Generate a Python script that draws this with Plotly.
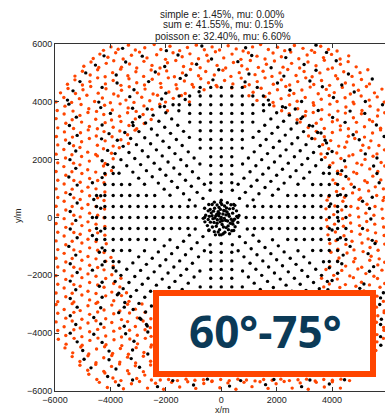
import plotly.graph_objects as go

# ---------------- data (metres) ----------------
TITLE_LINES = ["simple e: 1.45%, mu: 0.00%",
               "sum e: 41.55%, mu: 0.15%",
               "poisson e: 32.40%, mu: 6.60%"]
TICKS = [-6000, -4000, -2000, 0, 2000, 4000, 6000]
BOX_LABEL = "60°-75°"

# dense central cluster
BLACK_CORE = [(0,0),(-90,60),(110,-30),(60,120),(-140,-80),(-40,-150),(170,90),(-200,50),(30,-240),(230,-120),
(-110,200),(140,230),(-260,-170),(290,40),(-300,-40),(-30,280),(80,-330),(-180,-300),(250,-290),(-360,160),
(360,-60),(190,330),(-240,320),(-390,-160),(410,150),(-60,-420),(120,400),(-430,40),(420,-230),(300,300),
(-320,-330),(20,450),(-150,430),(260,-420),(-470,-70),(480,-60),(-110,-500),(130,-510),(-400,280),(430,310),
(-470,230),(500,-320),(-330,450),(350,440),(-500,-280),(-250,-490),(560,40),(-560,80),(70,-560),(-20,520),
(380,-460),(-440,-430),(550,230),(-590,-150),(220,510),(-250,530),(600,-170),(-600,320),(490,420),(-60,-600),
(640,70),(-650,-30),(-210,-600),(300,-560),(160,-100),(-70,140),(-230,-20),(40,-110),(210,190),(-160,110),
(90,240),(-20,-50),(330,-200),(-80,350),(-330,60),(180,-350),(-280,220),(420,-130),(260,110),(-150,-200)]

# detector grid
BLACK_GRID = [
# east
(600,0),(900,0),(1200,0),(1500,0),(1800,0),(2100,0),(2400,0),(2700,0),(3000,0),(3300,0),(3600,0),(3900,0),
(1200,380),(1500,380),(1800,380),(2100,380),(2400,380),(2700,380),(3000,380),(3300,380),(3600,380),(3900,380),
(1200,-380),(1500,-380),(1800,-380),(2100,-380),(2400,-380),(2700,-380),(3000,-380),(3300,-380),(3600,-380),(3900,-380),
(2400,760),(2700,760),(3000,760),(3300,760),(3600,760),(3900,760),
(2400,-760),(2700,-760),(3000,-760),(3300,-760),(3600,-760),(3900,-760),
(3300,1140),(3600,1140),(3900,1140),(3300,-1140),(3600,-1140),(3900,-1140),
(4200,0),(4500,0),(4200,380),(4500,380),(4200,-380),(4500,-380),(4200,760),(4500,760),(4200,-760),(4500,-760),
(4200,1140),(4200,-1140),(3900,1520),(4200,1520),(3900,-1520),(4200,-1520),
# west
(-600,0),(-900,0),(-1200,0),(-1500,0),(-1800,0),(-2100,0),(-2400,0),(-2700,0),(-3000,0),(-3300,0),(-3600,0),(-3900,0),
(-1200,380),(-1500,380),(-1800,380),(-2100,380),(-2400,380),(-2700,380),(-3000,380),(-3300,380),(-3600,380),(-3900,380),
(-1200,-380),(-1500,-380),(-1800,-380),(-2100,-380),(-2400,-380),(-2700,-380),(-3000,-380),(-3300,-380),(-3600,-380),(-3900,-380),
(-2400,760),(-2700,760),(-3000,760),(-3300,760),(-3600,760),(-3900,760),
(-2400,-760),(-2700,-760),(-3000,-760),(-3300,-760),(-3600,-760),(-3900,-760),
(-3300,1140),(-3600,1140),(-3900,1140),(-3300,-1140),(-3600,-1140),(-3900,-1140),
(-4200,0),(-4500,0),(-4200,380),(-4500,380),(-4200,-380),(-4500,-380),(-4200,760),(-4500,760),(-4200,-760),(-4500,-760),
(-4200,1140),(-4200,-1140),(-3900,1520),(-4200,1520),(-3900,-1520),(-4200,-1520),
# north
(0,600),(0,900),(0,1200),(0,1500),(0,1800),(0,2100),(0,2400),(0,2700),(0,3000),(0,3300),(0,3600),(0,3900),
(380,1200),(380,1500),(380,1800),(380,2100),(380,2400),(380,2700),(380,3000),(380,3300),(380,3600),(380,3900),
(-380,1200),(-380,1500),(-380,1800),(-380,2100),(-380,2400),(-380,2700),(-380,3000),(-380,3300),(-380,3600),(-380,3900),
(760,2400),(760,2700),(760,3000),(760,3300),(760,3600),(760,3900),
(-760,2400),(-760,2700),(-760,3000),(-760,3300),(-760,3600),(-760,3900),
(1140,3300),(1140,3600),(1140,3900),(-1140,3300),(-1140,3600),(-1140,3900),
(0,4200),(0,4500),(380,4200),(380,4500),(-380,4200),(-380,4500),(760,4200),(760,4500),(-760,4200),(-760,4500),
(1140,4200),(-1140,4200),(1520,3900),(1520,4200),(-1520,3900),(-1520,4200),
# south (visible part)
(0,-600),(0,-900),(0,-1200),(0,-1500),(0,-1800),(0,-2100),(0,-2400),
(380,-1200),(380,-1500),(380,-1800),(380,-2100),(380,-2400),
(-380,-1200),(-380,-1500),(-380,-1800),(-380,-2100),(-380,-2400),
(760,-2400),(-760,-2400),
# north-east
(450,450),(660,660),(870,870),(1080,1080),(1290,1290),(1500,1500),(1710,1710),(1920,1920),(2130,2130),(2340,2340),(2550,2550),(2760,2760),
(940,400),(1150,610),(1360,820),(1580,1040),(1790,1250),(2000,1460),(2210,1670),(2420,1880),(2640,2100),(2850,2310),(3060,2520),
(400,940),(610,1150),(820,1360),(1040,1580),(1250,1790),(1460,2000),(1670,2210),(1880,2420),(2100,2640),(2310,2850),(2520,3060),
(1850,770),(2060,980),(2270,1190),(2490,1410),(2700,1620),(2910,1830),(3120,2040),(3330,2250),
(770,1850),(980,2060),(1190,2270),(1410,2490),(1620,2700),(1830,2910),(2040,3120),(2250,3330),
(2770,1150),(2980,1360),(3190,1570),(3410,1790),(1150,2770),(1360,2980),(1570,3190),(1790,3410),
(3690,1530),(1530,3690),
(2970,2970),(3180,3180),(3270,2730),(3480,2940),(2730,3270),(2940,3480),(3540,2460),(3750,2670),(2460,3540),(2670,3750),
(3620,2000),(3830,2210),(2000,3620),(2210,3830),(3900,1740),(1740,3900),
# north-west
(-450,450),(-660,660),(-870,870),(-1080,1080),(-1290,1290),(-1500,1500),(-1710,1710),(-1920,1920),(-2130,2130),(-2340,2340),(-2550,2550),(-2760,2760),
(-940,400),(-1150,610),(-1360,820),(-1580,1040),(-1790,1250),(-2000,1460),(-2210,1670),(-2420,1880),(-2640,2100),(-2850,2310),(-3060,2520),
(-400,940),(-610,1150),(-820,1360),(-1040,1580),(-1250,1790),(-1460,2000),(-1670,2210),(-1880,2420),(-2100,2640),(-2310,2850),(-2520,3060),
(-1850,770),(-2060,980),(-2270,1190),(-2490,1410),(-2700,1620),(-2910,1830),(-3120,2040),(-3330,2250),
(-770,1850),(-980,2060),(-1190,2270),(-1410,2490),(-1620,2700),(-1830,2910),(-2040,3120),(-2250,3330),
(-2770,1150),(-2980,1360),(-3190,1570),(-3410,1790),(-1150,2770),(-1360,2980),(-1570,3190),(-1790,3410),
(-3690,1530),(-1530,3690),
(-2970,2970),(-3180,3180),(-3270,2730),(-3480,2940),(-2730,3270),(-2940,3480),(-3540,2460),(-3750,2670),(-2460,3540),(-2670,3750),
(-3620,2000),(-3830,2210),(-2000,3620),(-2210,3830),(-3900,1740),(-1740,3900),
# south-east (visible part)
(450,-450),(660,-660),(870,-870),(1080,-1080),(1290,-1290),(1500,-1500),(1710,-1710),(1920,-1920),(2130,-2130),(2340,-2340),(2550,-2550),
(940,-400),(1150,-610),(1360,-820),(1580,-1040),(1790,-1250),(2000,-1460),(2210,-1670),(2420,-1880),(2640,-2100),(2850,-2310),(3060,-2520),
(400,-940),(610,-1150),(820,-1360),(1040,-1580),(1250,-1790),(1460,-2000),(1670,-2210),(1880,-2420),
(1850,-770),(2060,-980),(2270,-1190),(2490,-1410),(2700,-1620),(2910,-1830),(3120,-2040),(3330,-2250),
(770,-1850),(980,-2060),(1190,-2270),(1410,-2490),
(2770,-1150),(2980,-1360),(3190,-1570),(3410,-1790),(3690,-1530),
(3540,-2460),(3620,-2000),(3830,-2210),(3900,-1740),
# south-west
(-450,-450),(-660,-660),(-870,-870),(-1080,-1080),(-1290,-1290),(-1500,-1500),(-1710,-1710),(-1920,-1920),(-2130,-2130),(-2340,-2340),(-2550,-2550),(-2760,-2760),
(-940,-400),(-1150,-610),(-1360,-820),(-1580,-1040),(-1790,-1250),(-2000,-1460),(-2210,-1670),(-2420,-1880),(-2640,-2100),(-2850,-2310),(-3060,-2520),
(-400,-940),(-610,-1150),(-820,-1360),(-1040,-1580),(-1250,-1790),(-1460,-2000),(-1670,-2210),(-1880,-2420),(-2520,-3060),
(-1850,-770),(-2060,-980),(-2270,-1190),(-2490,-1410),(-2700,-1620),(-2910,-1830),(-3120,-2040),(-3330,-2250),
(-770,-1850),(-980,-2060),(-1190,-2270),(-1410,-2490),
(-2770,-1150),(-2980,-1360),(-3190,-1570),(-3410,-1790),(-3690,-1530),
(-2970,-2970),(-3180,-3180),(-3270,-2730),(-3480,-2940),(-2730,-3270),(-2940,-3480),(-3540,-2460),(-3750,-2670),(-2670,-3750),
(-3620,-2000),(-3830,-2210),(-3900,-1740)]

# black hits among the outer ring
BLACK_OUTER = [(-3560,5850),(-1980,5770),(-700,5930),(880,5870),(2480,5800),(3420,5960),
(-4230,5590),(-2850,5580),(-1560,5620),(-350,5480),(1100,5600),(2330,5530),(3800,5710),
(-4540,5270),(-3450,5380),(-2040,5220),(-890,5300),(600,5390),(1800,5180),(2990,5290),(4150,5420),
(-4890,5000),(-3790,4930),(-2380,5030),(-1270,4920),(-90,5110),(1000,4960),(2260,4890),(3420,5090),(4590,4960),
(-5100,4700),(-3760,4650),(-2620,4700),(-1480,4810),(-300,4760),(860,4690),(2030,4650),(3200,4720),(4350,4580),(5450,4790),
(-5350,4380),(-4300,4500),(-3150,4420),(-2000,4300),(-800,4350),(1300,4500),(2480,4400),(3650,4520),(4800,4340),
(-5550,4060),(-4420,3990),(-3300,4180),(-2150,4100),(-1300,4080),(1700,4060),(2900,4010),(4050,4150),(5200,4010),
(-5500,3920),(-4350,3800),(-3200,3780),(-2050,3840),(2320,3800),(3500,3700),(4650,3680),(5820,3900),
(-5230,3470),(-4000,3600),(-2950,3480),(2880,3420),(4020,3460),(5180,3600),
(-5480,3180),(-4300,3200),(-3200,3290),(3300,3160),(4470,3290),(5600,3200),
(-5200,2840),(-4050,2900),(3600,2920),(4760,2860),(5880,2800),
(-5480,2570),(-4320,2720),(3800,2580),(4980,2690),
(-5250,2300),(-4100,2320),(4000,2280),(5200,2200),
(-5460,2000),(-4300,1960),(4450,1960),(5620,2060),
(-5250,1700),(-4100,1830),(4350,1620),(5500,1780),
(-5500,1400),(-4300,1380),(4500,1420),(5620,1520),
(-5200,1120),(-4650,1200),(4800,1050),(5700,1200),
(-5450,800),(-4350,750),(4300,790),(5450,700),
(-5200,500),(-4600,620),(3950,470),(5100,560),
(-5450,210),(-4350,320),(4200,200),(5350,310),
(-5250,-100),(-4650,0),(4230,-120),(5400,-50),
(-5450,-400),(-4350,-470),(4000,-430),(5100,-380),
(-5200,-700),(-4650,-620),(4300,-700),(5450,-790),
(-5500,-1000),(-4300,-1050),(4650,-1000),(5550,-900),
(-5250,-1300),(-4400,-1200),(4400,-1300),(5300,-1250),
(-5450,-1600),(-4300,-1640),(4350,-1600),(5500,-1700),
(-5200,-1900),(-4650,-1820),(-3800,-1850),(4200,-1930),(5350,-1860),
(-5450,-2200),(-4300,-2240),(4000,-2180),(5150,-2300),
(-5250,-2500),(-4400,-2380),(-3700,-2620),(3850,-2500),(5000,-2450),(5850,-2600),
(-5450,-2800),(-4300,-2760),(5750,-2780),
(-5200,-3100),(-4350,-3120),(-3500,-3100),(5720,-3010),
(-5450,-3400),(-4600,-3460),(-3700,-3290),(-2900,-3520),(5780,-3520),
(-5250,-3700),(-4350,-3680),(-3500,-3760),(-2700,-3700),(5750,-3700),
(-5450,-4000),(-4600,-4040),(-3450,-4020),(-2650,-3960),(5750,-4120),
(-5200,-4300),(-4300,-4320),(-3150,-4280),(5760,-4420),
(-5000,-4600),(-4050,-4620),(-3200,-4580),(-2650,-4720),
(-4950,-4900),(-4050,-4920),(-3250,-4880),
(-4700,-5200),(-3800,-5240),(-2950,-5180),
(-4100,-5500),(-3200,-5620),(-1750,-5640),(-500,-5590),(700,-5640),(1900,-5600),(3200,-5620),(4450,-5610),
(-3700,-5800),(-2300,-5850),(-1000,-5790),(300,-5830),(1600,-5780),(2900,-5850),(3900,-5760)]

ORANGE_PTS = [
(-4250,5780),(-3980,5900),(-3720,5820),(-3350,5960),(-3100,5790),(-2760,5870),(-2420,5980),(-2180,5810),(-1850,5920),(-1500,5770),
(-1220,5880),(-900,5960),(-610,5800),(-330,5900),(-60,5790),(250,5940),(540,5830),(790,5760),(1130,5900),(1420,5980),
(1700,5810),(2030,5890),(2290,5770),(2640,5950),(2950,5850),(3260,5780),(3590,5920),(3870,5810),(4180,5760),
(-4620,5500),(-4380,5650),(-4090,5540),(-3810,5700),(-3540,5480),(-3240,5610),(-2950,5720),(-2680,5520),(-2330,5630),(-2010,5470),
(-1740,5700),(-1410,5560),(-1130,5660),(-820,5490),(-520,5610),(-210,5730),(90,5520),(390,5650),(710,5470),(980,5700),
(1290,5580),(1580,5480),(1870,5690),(2170,5560),(2510,5720),(2800,5490),(3100,5620),(3370,5710),(3690,5530),(3980,5640),
(4290,5480),(4600,5590),
(-4960,5230),(-4700,5380),(-4420,5190),(-4150,5330),(-3880,5420),(-3600,5200),(-3310,5310),(-3050,5170),(-2790,5400),(-2500,5260),
(-2210,5170),(-1940,5350),(-1640,5430),(-1360,5220),(-1060,5320),(-760,5180),(-470,5410),(-150,5260),(160,5170),(440,5360),
(740,5250),(1050,5430),(1340,5190),(1630,5300),(1920,5410),(2230,5200),(2540,5330),(2830,5170),(3130,5380),(3420,5250),
(3720,5440),(4010,5170),(4300,5300),(4580,5390),(4870,5210),
(-5280,4890),(-5010,5060),(-4730,4930),(-4460,5110),(-4190,4870),(-3920,5010),(-3630,5130),(-3370,4900),(-3080,5040),(-2800,4880),
(-2530,5100),(-2260,4960),(-1970,5070),(-1690,4870),(-1400,5000),(-1110,5120),(-820,4900),(-560,5050),(-250,4930),(60,5090),
(350,4880),(650,5010),(940,5130),(1220,4940),(1510,5060),(1830,4880),(2120,5000),(2400,5120),(2700,4910),(2990,5050),
(3280,4870),(3560,5000),(3850,5130),(4130,4900),(4420,5040),(4720,4880),(5010,5010),(5290,5110),
(-5550,4610),(-5280,4760),(-5010,4580),(-4740,4700),(-4460,4830),(-4180,4620),(-3900,4740),(-3620,4570),(-3330,4800),(-3050,4660),
(-2770,4580),(-2490,4780),(-2190,4640),(-1910,4830),(-1630,4590),(-1330,4720),(-1050,4600),(-740,4800),(-460,4660),(-180,4570),
(120,4740),(420,4620),(720,4820),(1010,4590),(1300,4700),(1580,4830),(1880,4610),(2170,4760),(2470,4580),(2760,4700),
(3050,4830),(3340,4600),(3620,4740),(3910,4570),(4200,4800),(4480,4650),(4770,4580),(5060,4770),(5350,4620),
(-5800,4310),(-5530,4460),(-5260,4290),(-4990,4420),(-4710,4530),(-4440,4300),(-4160,4450),(-3880,4270),(-3600,4400),(-3320,4520),
(-3030,4310),(-2750,4440),(-2460,4270),(-2170,4500),(-1890,4340),(-1600,4450),(-1300,4290),(-1000,4510),(-620,4420),(-150,4520),
(380,4480),(850,4530),(1150,4330),(1440,4470),(1740,4300),(2030,4420),(2330,4530),(2620,4290),(2910,4410),(3210,4510),
(3500,4280),(3790,4430),(4080,4320),(4370,4500),(4660,4270),(4950,4400),(5240,4530),(5530,4310),(5800,4440),
(-5960,4000),(-5680,4150),(-5400,3980),(-5120,4110),(-4850,4230),(-4570,4010),(-4290,4130),(-4000,3970),(-3720,4200),(-3440,4060),
(-3150,3980),(-2870,4160),(-2580,4040),(-2300,4230),(-2010,3990),(-1730,4120),(-1440,4220),(-1150,4000),
(1000,4210),(1290,4050),(1580,4180),(1870,3980),(2160,4110),(2450,4230),(2740,4020),(3030,4150),(3320,3970),(3610,4090),
(3900,4220),(4180,4010),(4470,4140),(4760,3990),(5050,4200),(5340,4060),(5630,4170),(5880,3990),
(-5920,3700),(-5640,3850),(-5350,3680),(-5060,3910),(-4780,3760),(-4500,3670),(-4210,3880),(-3930,3720),(-3650,3930),(-3360,3790),
(-3070,3670),(-2790,3860),(-2500,3740),(-2220,3920),(-1940,3690),
(1900,3860),(2180,3690),(2470,3900),(2760,3760),(3050,3670),(3340,3880),(3630,3730),(3920,3920),(4210,3680),(4500,3820),
(4790,3930),(5080,3700),(5370,3850),(5660,3720),
(-5960,3420),(-5670,3580),(-5380,3380),(-5100,3530),(-4810,3630),(-4530,3400),(-4240,3560),(-3960,3370),(-3670,3500),(-3380,3620),
(-3100,3410),(-2820,3560),(-2530,3390),
(2450,3590),(2740,3380),(3030,3520),(3320,3630),(3610,3400),(3900,3550),(4190,3370),(4480,3610),(4770,3450),(5060,3590),
(5350,3380),(5640,3510),(5900,3620),
(-5900,3100),(-5610,3260),(-5330,3080),(-5040,3300),(-4760,3150),(-4470,3070),(-4190,3280),(-3900,3120),(-3620,3320),(-3330,3180),
(-3050,3070),(-2780,3250),
(2850,3300),(3140,3110),(3430,3260),(3720,3080),(4010,3310),(4300,3170),(4590,3070),(4880,3290),(5170,3140),(5460,3320),(5750,3090),
(-5950,2800),(-5660,2960),(-5370,2780),(-5080,2930),(-4800,3030),(-4510,2820),(-4230,2970),(-3940,2790),(-3660,2990),(-3380,2860),(-3110,3020),
(3150,2820),(3430,2980),(3720,2790),(4010,2940),(4300,3030),(4590,2810),(4880,2960),(5170,2780),(5460,2920),(5750,3030),
(-5900,2510),(-5620,2680),(-5330,2480),(-5040,2620),(-4760,2730),(-4470,2500),(-4190,2650),(-3900,2470),(-3620,2690),(-3350,2560),
(3380,2720),(3660,2520),(3950,2660),(4240,2470),(4530,2610),(4820,2730),(5110,2500),(5400,2650),(5690,2490),
(-5960,2190),(-5680,2350),(-5390,2170),(-5100,2420),(-4820,2260),(-4530,2180),(-4250,2380),(-3960,2220),(-3680,2410),
(3600,2200),(3880,2380),(4170,2230),(4460,2430),(4750,2170),(5040,2320),(5330,2410),(5620,2200),(5890,2340),
(-5900,1890),(-5620,2060),(-5330,1880),(-5040,2110),(-4760,1950),(-4470,2130),(-4190,1870),(-3900,2030),
(3750,2080),(4030,1890),(4320,2040),(4610,2130),(4900,1880),(5190,2010),(5480,2120),(5770,1900),
(-5960,1590),(-5680,1760),(-5390,1580),(-5100,1820),(-4820,1650),(-4530,1570),(-4250,1780),(-3960,1620),
(3920,1800),(4200,1600),(4490,1750),(4780,1570),(5070,1820),(5360,1680),(5650,1590),(5900,1780),
(-5900,1290),(-5610,1460),(-5320,1280),(-5030,1520),(-4750,1350),(-4460,1280),(-4180,1480),
(4030,1300),(4310,1490),(4600,1330),(4890,1520),(5180,1270),(5470,1430),(5760,1300),
(-5960,990),(-5670,1160),(-5380,980),(-5090,1220),(-4810,1050),(-4520,990),(-4230,1200),
(4120,1180),(4400,1000),(4690,1150),(4980,970),(5270,1210),(5560,1060),(5850,990),
(-5900,690),(-5610,860),(-5320,680),(-5030,910),(-4750,750),(-4460,680),(-4200,880),
(3880,720),(4160,900),(4450,700),(4740,850),(5030,680),(5320,920),(5610,760),(5880,690),
(-5960,390),(-5670,560),(-5380,380),(-5090,620),(-4810,450),(-4520,380),(-4230,590),
(3820,600),(4100,400),(4390,560),(4680,380),(4970,620),(5260,460),(5550,380),(5840,590),
(-5900,90),(-5610,260),(-5320,80),(-5030,320),(-4750,150),(-4460,80),(-4210,290),
(3780,300),(4060,100),(4350,260),(4640,80),(4930,320),(5220,150),(5510,80),(5800,290),
(-5960,-210),(-5670,-40),(-5380,-220),(-5090,20),(-4810,-150),(-4520,-230),(-4230,-10),
(3800,-80),(4090,-230),(4380,-40),(4670,-190),(4960,20),(5250,-140),(5540,-230),(5830,-30),
(-5900,-510),(-5610,-340),(-5320,-520),(-5030,-280),(-4750,-450),(-4460,-530),(-4200,-310),
(3830,-320),(4120,-500),(4410,-300),(4700,-480),(4990,-280),(5280,-440),(5570,-530),(5860,-330),
(-5960,-810),(-5670,-640),(-5380,-820),(-5090,-580),(-4810,-750),(-4520,-830),(-4200,-610),
(3850,-600),(4140,-800),(4430,-630),(4720,-820),(5010,-580),(5300,-740),(5590,-830),(5880,-620),
(-5900,-1110),(-5610,-940),(-5320,-1120),(-5030,-880),(-4750,-1050),(-4460,-1130),(-4150,-910),
(3920,-900),(4210,-1100),(4500,-930),(4790,-1120),(5080,-880),(5370,-1040),(5660,-1130),(5900,-920),
(-5960,-1410),(-5670,-1240),(-5380,-1420),(-5090,-1180),(-4810,-1350),(-4520,-1430),(-4230,-1210),(-3980,-1380),
(3960,-1200),(4250,-1400),(4540,-1230),(4830,-1420),(5120,-1180),(5410,-1340),(5700,-1430),
(-5900,-1710),(-5610,-1540),(-5320,-1720),(-5030,-1480),(-4750,-1650),(-4460,-1730),(-4170,-1510),(-3900,-1680),
(3920,-1700),(4200,-1500),(4490,-1680),(4780,-1530),(5070,-1720),(5360,-1480),(5650,-1640),(5900,-1550),
(-5960,-2010),(-5670,-1840),(-5380,-2020),(-5090,-1780),(-4810,-1950),(-4520,-2030),(-4230,-1810),(-3950,-1980),
(3780,-1800),(4060,-2000),(4350,-1830),(4640,-2020),(4930,-1780),(5220,-1940),(5510,-2030),(5800,-1820),
(-5900,-2310),(-5610,-2140),(-5320,-2320),(-5030,-2080),(-4750,-2250),(-4460,-2330),(-4170,-2110),(-3880,-2280),(-3620,-2100),
(3620,-2100),(3900,-2300),(4190,-2130),(4480,-2320),(4770,-2080),(5060,-2240),(5350,-2330),(5640,-2110),(5900,-2280),
(-5960,-2610),(-5670,-2440),(-5380,-2620),(-5090,-2380),(-4810,-2550),(-4520,-2630),(-4230,-2410),(-3950,-2580),(-3660,-2400),(-3420,-2600),
(3420,-2620),(3700,-2400),(3990,-2580),(4280,-2420),(4570,-2630),(4860,-2380),(5150,-2540),(5440,-2620),(5730,-2410),
(-5900,-2910),(-5610,-2740),(-5320,-2920),(-5030,-2680),(-4750,-2850),(-4460,-2930),(-4170,-2710),(-3880,-2880),(-3600,-2700),(-3330,-2900),
(5620,-2720),(5850,-2900),
(-5960,-3010),(-5670,-3180),(-5380,-2980),(-5090,-3220),(-4810,-3050),(-4520,-2970),(-4230,-3200),(-3950,-3030),(-3660,-3230),(-3380,-3000),
(-3100,-3170),(-2860,-2990),(5600,-3100),(5880,-3230),
(-5900,-3310),(-5610,-3480),(-5320,-3280),(-5030,-3520),(-4750,-3350),(-4460,-3270),(-4170,-3500),(-3880,-3330),(-3600,-3530),(-3310,-3300),
(-3030,-3470),(-2750,-3280),(-2540,-3500),(5650,-3400),(5880,-3290),
(-5960,-3610),(-5670,-3780),(-5380,-3580),(-5090,-3820),(-4810,-3650),(-4520,-3570),(-4230,-3800),(-3950,-3630),(-3660,-3830),(-3380,-3600),
(-3100,-3770),(-2820,-3580),(-2560,-3810),(5600,-3620),(5860,-3800),
(-5900,-3910),(-5610,-4080),(-5320,-3880),(-5030,-4120),(-4750,-3950),(-4460,-3870),(-4170,-4100),(-3880,-3930),(-3600,-4130),(-3310,-3900),
(-3030,-4070),(-2750,-3880),(-2530,-4110),(5620,-4050),(5870,-3900),
(-5880,-4210),(-5600,-4380),(-5310,-4180),(-5020,-4420),(-4740,-4250),(-4450,-4170),(-4160,-4400),(-3870,-4230),(-3590,-4430),(-3300,-4200),
(-3020,-4370),(-2740,-4180),(-2520,-4410),(5620,-4300),(5850,-4180),
(-5640,-4510),(-5360,-4680),(-5070,-4480),(-4780,-4720),(-4500,-4550),(-4210,-4470),(-3920,-4700),(-3640,-4530),(-3350,-4730),(-3070,-4500),
(-2790,-4670),(-2540,-4480),(5580,-4600),
(-5380,-4810),(-5100,-4980),(-4810,-4780),(-4520,-5020),(-4240,-4850),(-3950,-4770),(-3660,-5000),(-3380,-4830),(-3090,-5030),(-2810,-4800),(-2550,-4970),
(-5100,-5110),(-4820,-5280),(-4530,-5080),(-4240,-5320),(-3960,-5150),(-3670,-5070),(-3380,-5300),(-3100,-5130),(-2810,-5330),(-2550,-5100),
(-4780,-5420),(-4490,-5600),(-4200,-5380),(-3910,-5550),(-3620,-5640),(-3330,-5400),(-3050,-5570),(-2760,-5450),(-2520,-5620),
(-2200,-5620),(-1900,-5600),(-1580,-5640),(-1270,-5590),(-950,-5630),(-640,-5610),(-330,-5650),(-20,-5600),(290,-5640),(600,-5590),
(910,-5620),(1220,-5650),(1530,-5600),(1840,-5630),(2150,-5590),(2460,-5640),(2770,-5610),(3080,-5590),(3390,-5650),(3700,-5600),
(4010,-5630),(4320,-5590),(4630,-5640),
(-4400,-5700),(-4110,-5880),(-3820,-5680),(-3530,-5920),(-3240,-5750),(-2950,-5670),(-2660,-5900),(-2370,-5730),(-2080,-5940),(-1790,-5700),
(-1500,-5860),(-1210,-5680),(-920,-5910),(-630,-5740),(-340,-5670),(-50,-5890),(240,-5720),(530,-5940),(820,-5700),(1110,-5850),
(1400,-5680),(1690,-5910),(1980,-5750),(2270,-5670),(2560,-5900),(2850,-5720),(3140,-5940),(3430,-5700),(3720,-5860),(4010,-5680),(4300,-5900)]

ORANGE = "#FF4500"
NAVY = "#0B3A57"

ox = [p[0] for p in ORANGE_PTS]
oy = [p[1] for p in ORANGE_PTS]
black = BLACK_CORE + BLACK_GRID + BLACK_OUTER
bx = [p[0] for p in black]
by = [p[1] for p in black]

fig = go.Figure()
fig.add_trace(go.Scatter(x=ox, y=oy, mode="markers",
                         marker=dict(color=ORANGE, size=3.4, line=dict(width=0)),
                         showlegend=False, hoverinfo="skip"))
fig.add_trace(go.Scatter(x=bx, y=by, mode="markers",
                         marker=dict(color="black", size=3.4, line=dict(width=0)),
                         showlegend=False, hoverinfo="skip"))

W, H = 385, 417
ML, MT, MB = 55, 44, 26
PW, PH = W - ML, H - MT - MB

def px2paper(px, py):
    return (px - ML) / PW, (H - MB - py) / PH

axis_common = dict(showgrid=False, zeroline=False, showline=True, linecolor="#333",
                   linewidth=1, ticks="inside", ticklen=4, tickcolor="#333",
                   tickvals=TICKS, ticktext=[("\u2212" + str(-t)) if t < 0 else str(t) for t in TICKS],
                   tickfont=dict(family="Liberation Sans, Arial", size=9, color="#222"))

fig.update_layout(
    width=W, height=H, autosize=False,
    margin=dict(l=ML, r=0, t=MT, b=MB, pad=0),
    paper_bgcolor="white", plot_bgcolor="white",
    xaxis=dict(range=[-6000, 5910], mirror="ticks", **axis_common),
    yaxis=dict(range=[-6000, 6000], mirror=False, **axis_common),
)

annots = []
for txt, py in zip(TITLE_LINES, [14, 25, 36]):
    x, y = px2paper(222.5, py)
    annots.append(dict(text=txt, x=x, y=y, xref="paper", yref="paper", showarrow=False,
                       xanchor="center", yanchor="middle",
                       font=dict(family="Liberation Sans, Arial", size=10, color="#222")))
x, y = px2paper(223, 410)
annots.append(dict(text="x/m", x=x, y=y, xref="paper", yref="paper", showarrow=False,
                   xanchor="center", yanchor="middle",
                   font=dict(family="Liberation Sans, Arial", size=9, color="#222")))
x, y = px2paper(18, 216)
annots.append(dict(text="y/m", x=x, y=y, xref="paper", yref="paper", showarrow=False,
                   xanchor="center", yanchor="middle", textangle=-90,
                   font=dict(family="Liberation Sans, Arial", size=9, color="#222")))
x, y = px2paper(265, 331)
annots.append(dict(text="<b>" + BOX_LABEL + "</b>", x=x, y=y, xref="paper", yref="paper",
                   showarrow=False, xanchor="center", yanchor="middle",
                   font=dict(family="Open Sans", size=44, color=NAVY)))
fig.update_layout(annotations=annots)

x0, y0 = px2paper(156, 374)
x1, y1 = px2paper(373, 293)
fig.add_shape(type="rect", xref="paper", yref="paper", x0=x0, y0=y0, x1=x1, y1=y1,
              line=dict(color=ORANGE, width=6), fillcolor="white", layer="above")

fig.write_html("out.html", config={"displayModeBar": False})
